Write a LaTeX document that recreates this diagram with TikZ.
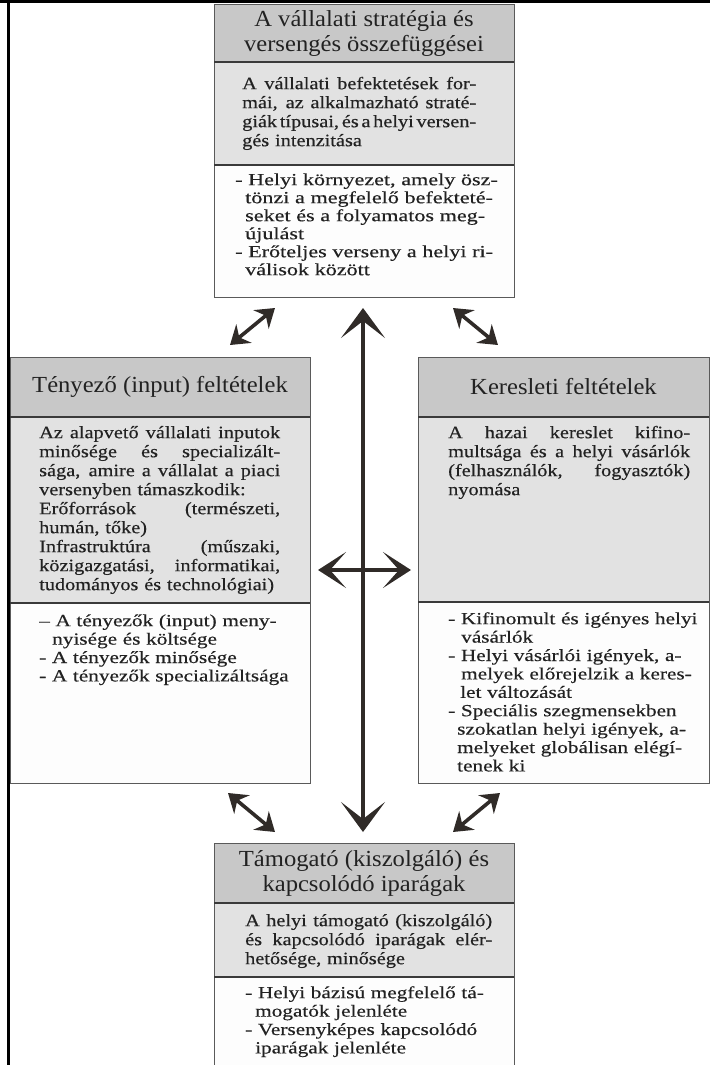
\documentclass[tikz,border=0pt]{standalone}
\usepackage{fontspec}
\setmainfont{Liberation Serif}
\newfontfamily\hdrfont[FakeStretch=1.07]{Liberation Serif}
\newfontfamily\bodyfont[FakeStretch=1.16,FakeBold=0.4]{Liberation Serif}
\newfontfamily\listfont[FakeStretch=1.25,WordSpace=0.5,FakeBold=0.4]{Liberation Serif}
\newfontfamily\widelistfont[FakeStretch=1.3,WordSpace=0.5,FakeBold=0.4]{Liberation Serif}
\usetikzlibrary{arrows.meta}

\definecolor{hdrgray}{HTML}{C8C8C8}
\definecolor{midgray}{HTML}{E2E2E2}
\definecolor{lowwhite}{HTML}{FDFDFD}
\definecolor{edge}{HTML}{5A5A5A}
\definecolor{rule}{HTML}{3A3A3A}
\definecolor{ink}{HTML}{222222}
\definecolor{arrowink}{HTML}{302B28}

% a line whose interword spaces are spread to the full width
\newcommand{\fullline}[2]{\leavevmode\hbox to #1{\spaceskip=0.12em plus 1fil\xspaceskip=\spaceskip\relax #2}}
\newcommand{\firststrut}{\rule{0pt}{15pt}}

\begin{document}
\begin{tikzpicture}[x=1pt,y=-1pt,
  panel/.style={draw=edge, line width=0.9pt, inner sep=0pt, outer sep=0pt, anchor=north west},
  hdrpanel/.style={panel, fill=hdrgray, align=center, text=ink,
    font=\fontsize{23}{25}\selectfont\hdrfont},
  midpanel/.style={panel, fill=midgray},
  lowpanel/.style={panel, fill=lowwhite},
  divider/.style={draw=rule, line width=1.2pt},
  bodytext/.style={anchor=north west, inner sep=0pt, align=left, text=ink,
    font=\fontsize{17.5}{19}\selectfont\bodyfont},
  listtext/.style={anchor=north west, inner sep=0pt, align=left, text=ink,
    font=\fontsize{17}{18.4}\selectfont\listfont},
  bigarrow/.style={draw=arrowink, line width=4.2pt,
    {Stealth[length=30pt,width=44pt,inset=17pt]}-{Stealth[length=30pt,width=44pt,inset=17pt]}},
  midarrow/.style={draw=arrowink, line width=4.2pt,
    {Stealth[length=28pt,width=36pt,inset=16pt]}-{Stealth[length=28pt,width=36pt,inset=16pt]}},
  smallarrow/.style={draw=arrowink, line width=3.6pt,
    {Stealth[length=18pt,width=24pt,inset=6pt]}-{Stealth[length=18pt,width=24pt,inset=6pt]}}
]
\useasboundingbox (0,0) rectangle (710,1065);

% page frame: rule on top, rule on the left
\fill[black] (0,0) rectangle (710,3.2);
\fill[black] (7.3,0) rectangle (10,1065);

% ---------- top panel ----------
\node[hdrpanel, minimum width=300pt, minimum height=58pt] (T-h) at (214,4)
  {A vállalati stratégia és\\versengés összefüggései};
\node[midpanel, minimum width=300pt, minimum height=103pt] (T-m) at (214,62) {};
\node[lowpanel, minimum width=300pt, minimum height=132pt] (T-l) at (214,165) {};
\draw[divider] (T-m.north west) -- (T-m.north east);
\draw[divider] (T-l.north west) -- (T-l.north east);
\node[bodytext, text width=234pt] (T-mt) at (242,74) {%
  \firststrut\fullline{234pt}{A vállalati befektetések for-}\\
  \fullline{234pt}{mái, az alkalmazható straté-}\\
  \fullline{234pt}{giák típusai, és a helyi versen-}\\
  gés intenzitása};
\node[listtext, text width=278pt, font=\fontsize{17}{18}\selectfont\widelistfont] (T-lt) at (235,170) {%
  \firststrut- Helyi környezet, amely ösz-\\
  \hspace*{10pt}tönzi a megfelelő befekteté-\\
  \hspace*{10pt}seket és a folyamatos meg-\\
  \hspace*{10pt}újulást\\
  - Erőteljes verseny a helyi ri-\\
  \hspace*{10pt}válisok között};

% ---------- left panel ----------
\node[hdrpanel, minimum width=300pt, minimum height=60pt] (L-h) at (10,357)
  {Tényező (input) feltételek};
\node[midpanel, minimum width=300pt, minimum height=186pt] (L-m) at (10,417) {};
\node[lowpanel, minimum width=300pt, minimum height=180pt] (L-l) at (10,603) {};
\draw[divider] (L-m.north west) -- (L-m.north east);
\draw[divider] (L-l.north west) -- (L-l.north east);
\node[bodytext, text width=241pt] (L-mt) at (39,423) {%
  \firststrut\fullline{241pt}{Az alapvető vállalati inputok}\\
  \fullline{241pt}{minősége és specializált-}\\
  \fullline{241pt}{sága, amire a vállalat a piaci}\\
  versenyben támaszkodik:\\
  \fullline{241pt}{Erőforrások (természeti,}\\
  humán, tőke)\\
  \fullline{241pt}{Infrastruktúra (műszaki,}\\
  \fullline{241pt}{közigazgatási, informatikai,}\\
  tudományos és technológiai)};
\node[listtext, text width=265pt] (L-lt) at (39,611) {%
  \firststrut– A tényezők (input) meny-\\
  \hspace*{13pt}nyisége és költsége\\
  - A tényezők minősége\\
  - A tényezők specializáltsága};

% ---------- right panel ----------
\node[hdrpanel, minimum width=291pt, minimum height=60pt] (R-h) at (418,357)
  {Keresleti feltételek};
\node[midpanel, minimum width=291pt, minimum height=185pt] (R-m) at (418,417) {};
\node[lowpanel, minimum width=291pt, minimum height=181pt] (R-l) at (418,602) {};
\draw[divider] (R-m.north west) -- (R-m.north east);
\draw[divider] (R-l.north west) -- (R-l.north east);
\node[bodytext, text width=242pt] (R-mt) at (448,423) {%
  \firststrut\fullline{242pt}{A hazai kereslet kifino-}\\
  \fullline{242pt}{multsága és a helyi vásárlók}\\
  \fullline{242pt}{(felhasználók, fogyasztók)}\\
  nyomása};
\node[listtext, text width=255pt] (R-lt) at (448,609) {%
  \firststrut- Kifinomult és igényes helyi\\
  \hspace*{13pt}vásárlók\\
  - Helyi vásárlói igények, a-\\
  \hspace*{13pt}melyek előrejelzik a keres-\\
  \hspace*{12pt}let változását\\
  - Speciális szegmensekben\\
  \hspace*{9pt}szokatlan helyi igények, a-\\
  \hspace*{9pt}melyeket globálisan elégí-\\
  \hspace*{9pt}tenek ki};

% ---------- bottom panel ----------
\node[hdrpanel, minimum width=300pt, minimum height=60pt] (B-h) at (214,843)
  {Támogató (kiszolgáló) és\\kapcsolódó iparágak};
\node[midpanel, minimum width=300pt, minimum height=74pt] (B-m) at (214,903) {};
\node[lowpanel, minimum width=300pt, minimum height=100pt] (B-l) at (214,977) {};
\draw[divider] (B-m.north west) -- (B-m.north east);
\draw[divider] (B-l.north west) -- (B-l.north east);
\node[bodytext, text width=247pt] (B-mt) at (245,911) {%
  \firststrut\fullline{247pt}{A helyi támogató (kiszolgáló)}\\
  \fullline{247pt}{és kapcsolódó iparágak elér-}\\
  hetősége, minősége};
\node[listtext, text width=262pt] (B-lt) at (245,983) {%
  \firststrut- Helyi bázisú megfelelő tá-\\
  \hspace*{10pt}mogatók jelenléte\\
  - Versenyképes kapcsolódó\\
  \hspace*{10pt}iparágak jelenléte};

% ---------- arrows ----------
\coordinate (hW) at (318,570);
\coordinate (hE) at (411,570);
\coordinate (vN) at (363,308);
\coordinate (vS) at (363,832);
\draw[midarrow] (hW) -- (hE);
\draw[bigarrow] (vN) -- (vS);

\coordinate (a1s) at (230,345); \coordinate (a1e) at (275,308);
\coordinate (a2s) at (453,308); \coordinate (a2e) at (498,345);
\coordinate (a3s) at (228,793); \coordinate (a3e) at (275,832);
\coordinate (a4s) at (500,793); \coordinate (a4e) at (453,832);
\draw[smallarrow] (a1s) -- (a1e);
\draw[smallarrow] (a2s) -- (a2e);
\draw[smallarrow] (a3s) -- (a3e);
\draw[smallarrow] (a4s) -- (a4e);
\end{tikzpicture}
\end{document}
